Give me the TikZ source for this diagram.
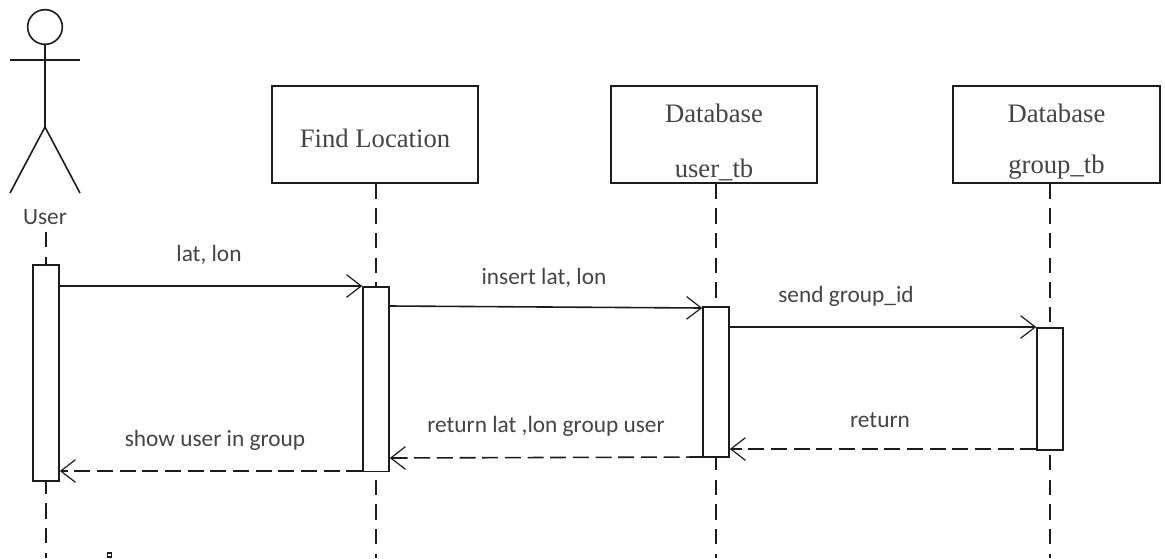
\documentclass[tikz,border=0pt]{standalone}
\usepackage{fontspec}
\setmainfont{Liberation Serif}
\newfontfamily\labelfont{Carlito}
\usetikzlibrary{arrows.meta}
\definecolor{inkc}{HTML}{1c1c1c}
\definecolor{textc}{HTML}{444444}
\tikzset{
  x=0.75pt,y=-0.75pt,
  boxn/.style={draw=inkc,line width=1.3pt,fill=white,minimum width=155pt,minimum height=72.5pt,inner sep=0pt},
  boxt/.style={font=\fontsize{20}{22}\selectfont,text=textc,inner sep=0pt},
  act/.style={draw=inkc,line width=1.2pt,fill=white,minimum width=19.5pt,inner sep=0pt,anchor=north},
  life/.style={draw=inkc,line width=1.1pt,dash pattern=on 11.5pt off 7pt},
  msg/.style={draw=inkc,line width=1.2pt,-{Straight Barb[length=11pt,width=17pt,line width=0.9pt]}},
  ret/.style={msg,dash pattern=on 12pt off 5pt},
  lbl/.style={font=\labelfont\fontsize{17.5}{19}\selectfont,text=textc,inner sep=0pt},
  stick/.style={draw=inkc,line width=1.2pt},
}
\begin{document}
\begin{tikzpicture}
\useasboundingbox (0,0) rectangle (1165,558);
% lifeline ends
\coordinate (uEnd) at (46,558);
\coordinate (fEnd) at (376,558);
\coordinate (dEnd) at (716,558);
\coordinate (gEnd) at (1050,558);
% boxes
\node[boxn] (find) at (375,134.5) {};
\node[boxn] (dbu) at (714,134.5) {};
\node[boxn] (dbg) at (1056.5,134.5) {};
\node[boxt] (findT) at (375,138) {Find Location};
\node[boxt] (dbuA) at (714,113) {Database};
\node[boxt] (dbuB) at (714,170) {user\_tb};
\node[boxt] (dbgA) at (1056.5,113) {Database};
\node[boxt] (dbgB) at (1056.5,167) {group\_tb};
% actor label
\node[lbl] (user) at (45,217) {User};
% lifelines
\draw[life] (uEnd |- 0,232) -- (uEnd);
\draw[life] (find.south -| fEnd) -- (fEnd);
\draw[life] (dbu.south -| dEnd) -- (dEnd);
\draw[life] (dbg.south -| gEnd) -- (gEnd);
% activations
\node[act,minimum height=162pt] (au) at (46,264) {};
\node[act,minimum height=138.5pt] (af) at (376,286) {};
\node[act,minimum height=112.5pt] (ad) at (716,306) {};
\node[act,minimum height=91.5pt] (ag) at (1050,327) {};
% actor
\node[draw=inkc,line width=1.2pt,circle,minimum size=26pt,inner sep=0pt] (head) at (45,27) {};
\coordinate (hip) at (45,127);
\coordinate (armL) at (10,60);
\coordinate (armR) at (80,60);
\coordinate (legL) at (10,193);
\coordinate (legR) at (80,193);
\draw[stick] (head.south) -- (hip);
\draw[stick] (armL) -- (armR);
\draw[stick] (legL) -- (hip) -- (legR);
% messages
\draw[msg] (au.east |- 0,286) -- (af.west |- 0,286);
\draw[msg] (af.east |- 0,306) -- (ad.west |- 0,308);
\draw[msg] (ad.east |- 0,327) -- (ag.west |- 0,327);
\draw[ret] (ag.west |- 0,449) -- (ad.east |- 0,449);
\draw[ret] (ad.west |- 0,457) -- (af.east |- 0,458);
\draw[ret] (af.west |- 0,471) -- (au.east |- 0,471);
% labels
\node[lbl] (l1) at (209,255) {lat, lon};
\node[lbl] (l2) at (544,278) {insert lat, lon};
\node[lbl] (l3) at (846,296) {send group\_id};
\node[lbl] (l4) at (880,420) {return};
\node[lbl] (l5) at (546,426) {return lat ,lon group user};
\node[lbl] (l6) at (215,440) {show user in group};
% small mark
\node[draw=inkc,line width=0.8pt,minimum size=3pt,inner sep=0pt] (mark) at (109.5,555) {};
\end{tikzpicture}
\end{document}
